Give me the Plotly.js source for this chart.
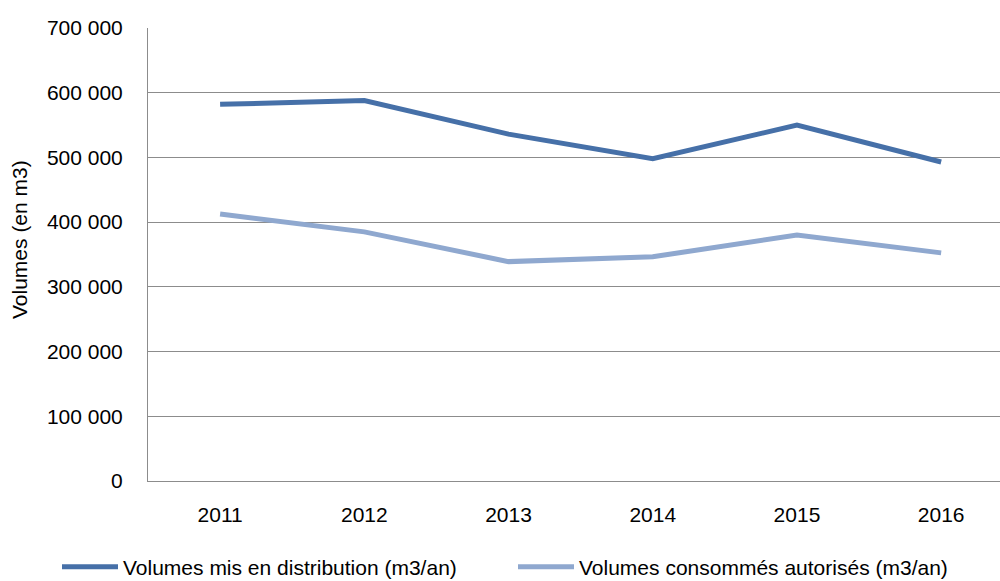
<!DOCTYPE html>
<html>
<head>
<meta charset="utf-8">
<script src="https://cdn.plot.ly/plotly-3.0.1.min.js"></script>
<style>html,body{margin:0;padding:0;background:#fff;}#chart{width:1000px;height:581px;}</style>
</head>
<body>
<div id="chart"></div>
<script>
const years = ['2011', '2012', '2013', '2014', '2015', '2016'];
const volumesDistribution = [582000, 588000, 536000, 498000, 550000, 493000];
const volumesConsommes = [412500, 385000, 339000, 346500, 380000, 352500];
const seriesNames = ['Volumes mis en distribution (m3/an)', 'Volumes consommés autorisés (m3/an)'];
const yTickVals = [0, 100000, 200000, 300000, 400000, 500000, 600000, 700000];
const yTickText = ['0', '100 000', '200 000', '300 000', '400 000', '500 000', '600 000', '700 000'];
const yTitle = 'Volumes (en m3)';

const FONT = '"Liberation Sans", Arial, sans-serif';
const FS = 21;

const traces = [
  {x: years, y: volumesDistribution, name: seriesNames[0], type: 'scatter', mode: 'lines',
   line: {color: '#4670a8', width: 5}, legend: 'legend'},
  {x: years, y: volumesConsommes, name: seriesNames[1], type: 'scatter', mode: 'lines',
   line: {color: '#8fa8cf', width: 5}, legend: 'legend2'}
];

const legendBase = {orientation: 'h', xref: 'container', yref: 'container', xanchor: 'left',
  y: 0.024, yanchor: 'middle', font: {family: FONT, size: FS, color: '#000'},
  itemwidth: 56, borderwidth: 0, bgcolor: 'rgba(0,0,0,0)'};

const layout = {
  width: 1000, height: 581,
  margin: {l: 148, r: 0, t: 28, b: 100},
  paper_bgcolor: '#fff', plot_bgcolor: '#fff',
  font: {family: FONT, size: FS, color: '#000'},
  showlegend: true,
  legend: Object.assign({}, legendBase, {x: 0.057}),
  legend2: Object.assign({}, legendBase, {x: 0.513}),
  xaxis: {type: 'category', range: [-0.5, 5.408], showgrid: false, zeroline: false,
          showline: true, linecolor: '#8c8c8c', linewidth: 1, ticks: '',
          ticklabelstandoff: 15, tickfont: {family: FONT, size: FS}},
  yaxis: {range: [0, 700000], tickvals: yTickVals, ticktext: yTickText,
          showgrid: true, gridcolor: '#8c8c8c', gridwidth: 1, zeroline: false,
          showline: true, linecolor: '#8c8c8c', linewidth: 1, ticks: '',
          ticklabelstandoff: 20, tickfont: {family: FONT, size: FS}},
  annotations: [{text: yTitle, textangle: -90, xref: 'paper', yref: 'paper',
                 x: -128 / 852, y: (481 - 240) / 453, xanchor: 'center', yanchor: 'middle',
                 showarrow: false, font: {family: FONT, size: FS, color: '#000'}}]
};

Plotly.newPlot('chart', traces, layout, {displayModeBar: false, staticPlot: true});
</script>
</body>
</html>
